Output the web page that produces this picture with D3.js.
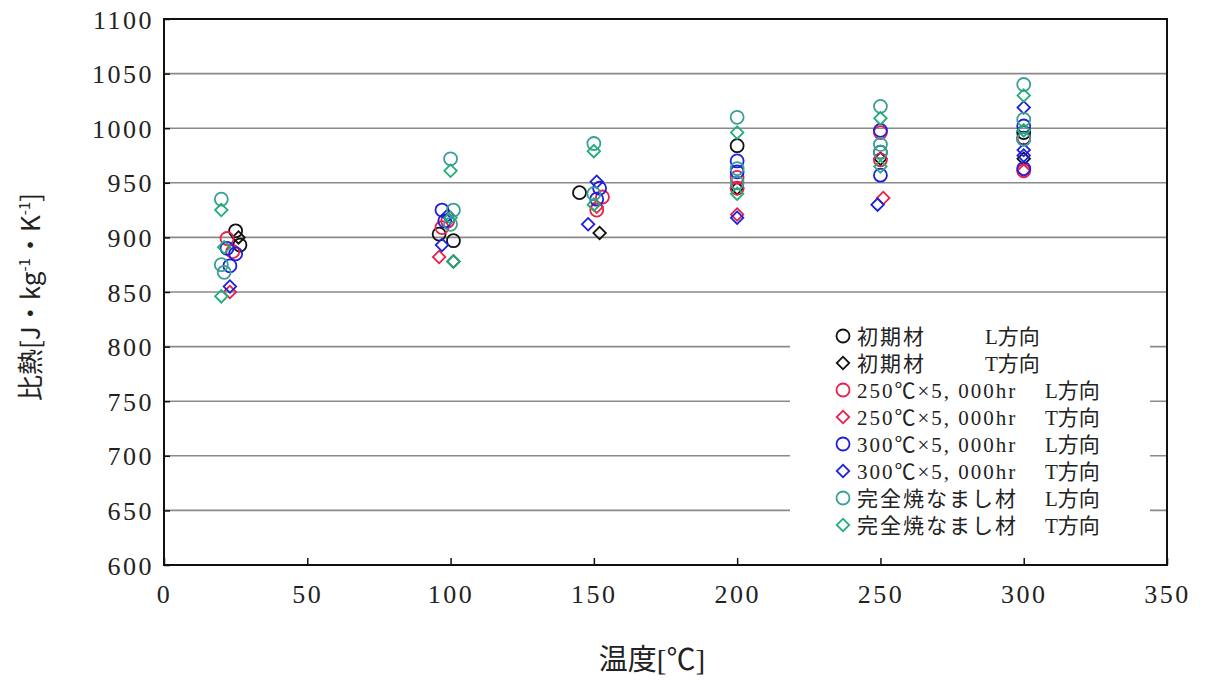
<!DOCTYPE html>
<html>
<head>
<meta charset="utf-8">
<script src="https://cdn.jsdelivr.net/npm/d3@7"></script>
<style>
  body { margin: 0; background: #fff; }
  svg { display: block; }
  .tick text { font-family: "Liberation Serif", serif; font-size: 26px; letter-spacing: 2.5px; fill: #222; }
</style>
</head>
<body>
<svg id="chart" width="1205" height="681"></svg>
<script>
// tick values
var xTicks = [0, 50, 100, 150, 200, 250, 300, 350];
var yTicks = [600, 650, 700, 750, 800, 850, 900, 950, 1000, 1050, 1100];

// series names (legend) and their direction text
var seriesNames = ["初期材", "初期材", "250℃×5, 000hr", "250℃×5, 000hr",
                   "300℃×5, 000hr", "300℃×5, 000hr", "完全焼なまし材", "完全焼なまし材"];
var seriesDir = ["L方向", "T方向", "L方向", "T方向", "L方向", "T方向", "L方向", "T方向"];
var seriesShape = ["circle", "diamond", "circle", "diamond", "circle", "diamond", "circle", "diamond"];
var seriesColor = ["#111111", "#111111", "#e8204a", "#e8204a", "#2020dc", "#2020dc", "#3a9f98", "#22ae78"];

// [temperature, specific heat]
var initL = [[25, 906], [26.5, 893], [96, 903], [101, 897], [145, 941], [200, 984], [250, 978], [300, 996], [300, 991]];
var initT = [[26, 900], [101, 878], [152, 904], [200, 945], [250, 972], [300, 972]];
var h250L = [[22, 899], [24, 887], [97, 909], [99, 915], [153, 937], [151, 925], [200, 945], [200, 955], [250, 971], [250, 996], [300, 961], [300, 990]];
var h250T = [[23, 850], [96, 882], [151, 928], [200, 921], [251, 936], [300, 961]];
var h300L = [[22, 890], [23, 874], [25, 885], [97, 925], [98, 915], [151, 935], [152, 945], [200, 970], [200, 960], [250, 998], [250, 957], [300, 963], [300, 1002]];
var h300T = [[23, 855], [97, 893], [99, 920], [148, 912], [151, 951], [200, 918], [249, 930], [300, 1019], [300, 980], [300, 975]];
var annL = [[20, 935], [20, 875], [21, 868], [100, 972], [101, 925], [100, 912], [150, 986], [150, 940], [200, 1010], [200, 963], [200, 950], [250, 1020], [250, 985], [250, 978], [300, 1040], [300, 1008], [300, 990]];
var annT = [[20, 925], [21, 891], [20, 846], [100, 961], [101, 878], [100, 918], [150, 979], [150, 930], [200, 996], [200, 940], [250, 1009], [250, 965], [300, 1030], [300, 998]];

var seriesData = [initL, initT, h250L, h250T, h300L, h300T, annL, annT];

var svg = d3.select("#chart");
var pLeft = 164, pRight = 1167, pTop = 19, pBottom = 565;

var x = d3.scaleLinear().domain([0, 350]).range([pLeft, pRight]);
var y = d3.scaleLinear().domain([600, 1100]).range([pBottom, pTop]);

// gridlines
svg.append("g")
  .selectAll("line")
  .data(yTicks.slice(1, -1))
  .join("line")
  .attr("x1", pLeft).attr("x2", pRight)
  .attr("y1", function(d) { return y(d); })
  .attr("y2", function(d) { return y(d); })
  .attr("stroke", "#8a8a8a")
  .attr("stroke-width", 1.6);

// axes
var yAxis = svg.append("g")
  .attr("transform", "translate(" + pLeft + ",0)")
  .call(d3.axisLeft(y).tickValues(yTicks).tickSizeInner(-6).tickSizeOuter(0).tickPadding(10).tickFormat(d3.format("d")));
var xAxis = svg.append("g")
  .attr("transform", "translate(0," + pBottom + ")")
  .call(d3.axisBottom(x).tickValues(xTicks).tickSizeInner(-7).tickSizeOuter(0).tickPadding(20).tickFormat(d3.format("d")));
[xAxis, yAxis].forEach(function(a) {
  a.select(".domain").remove();
  a.selectAll(".tick line").attr("stroke", "#111").attr("stroke-width", 1.5);
});
yAxis.selectAll(".tick text").attr("dy", "0.35em");

// legend background
svg.append("rect")
  .attr("x", 790).attr("y", 322).attr("width", 360).attr("height", 226)
  .attr("fill", "#fff");

// frame
svg.append("rect")
  .attr("x", pLeft).attr("y", pTop)
  .attr("width", pRight - pLeft).attr("height", pBottom - pTop)
  .attr("fill", "none").attr("stroke", "#111").attr("stroke-width", 2);

function drawMarker(sel, shape, color) {
  if (shape === "circle") {
    sel.append("circle").attr("r", 6.5)
      .attr("fill", "none").attr("stroke", color).attr("stroke-width", 1.8);
  } else {
    sel.append("path")
      .attr("d", d3.symbol().type(d3.symbolSquare).size(78)())
      .attr("transform", "rotate(45)")
      .attr("fill", "none").attr("stroke", color).attr("stroke-width", 1.8);
  }
}

// points
seriesData.forEach(function(data, i) {
  svg.append("g")
    .selectAll("g")
    .data(data)
    .join("g")
    .attr("transform", function(d) { return "translate(" + x(d[0]) + "," + y(d[1]) + ")"; })
    .each(function() { drawMarker(d3.select(this), seriesShape[i], seriesColor[i]); });
});

// legend
var leg = svg.append("g").attr("transform", "translate(843,336)");
seriesNames.forEach(function(name, i) {
  var row = leg.append("g").attr("transform", "translate(0," + (i * 27) + ")");
  drawMarker(row, seriesShape[i], seriesColor[i]);
  row.append("text")
    .attr("x", 14).attr("y", 0).attr("dy", "0.36em")
    .attr("font-family", "'Liberation Serif', 'Noto Sans CJK JP', serif")
    .attr("font-size", 21).attr("letter-spacing", 2)
    .attr("fill", "#222")
    .text(name);
  row.append("text")
    .attr("x", i < 2 ? 142 : 202).attr("y", 0).attr("dy", "0.36em")
    .attr("font-family", "'Liberation Serif', 'Noto Sans CJK JP', serif")
    .attr("font-size", 21)
    .attr("fill", "#222")
    .text(seriesDir[i]);
});

// axis titles
svg.append("text")
  .attr("x", 652).attr("y", 670)
  .attr("text-anchor", "middle")
  .attr("font-family", "'Liberation Serif', 'Noto Sans CJK JP', serif")
  .attr("font-size", 29).attr("fill", "#222")
  .text("温度[℃]");

var yt = svg.append("text")
  .attr("transform", "translate(40,297) rotate(-90)")
  .attr("text-anchor", "middle")
  .attr("font-family", "'Noto Sans CJK JP', sans-serif")
  .attr("font-size", 26).attr("fill", "#222");
yt.append("tspan").text("比熱[J・kg");
yt.append("tspan").attr("font-size", 15).attr("dy", -10).text("-1");
yt.append("tspan").attr("dy", 10).text("・K");
yt.append("tspan").attr("font-size", 15).attr("dy", -10).text("-1");
yt.append("tspan").attr("dy", 10).text("]");
</script>
</body>
</html>
